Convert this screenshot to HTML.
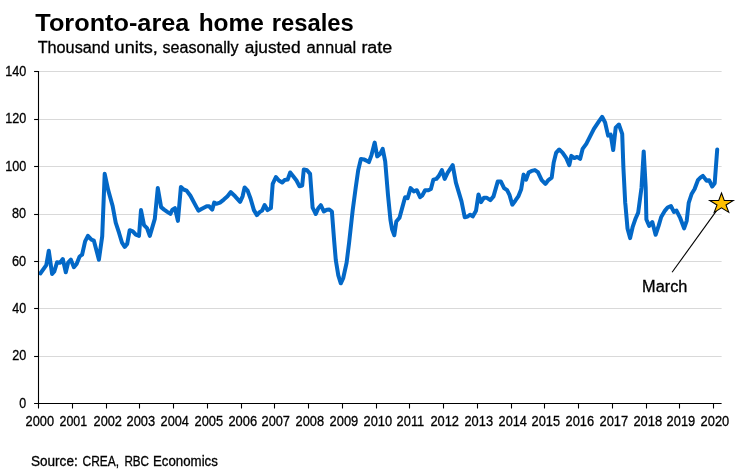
<!DOCTYPE html>
<html lang="en"><head><meta charset="utf-8"><title>Toronto-area home resales</title>
<style>html,body{margin:0;padding:0;background:#fff;}svg{display:block;}text{font-family:'Liberation Sans', 'DejaVu Sans', sans-serif;fill:#000;}</style>
</head><body>
<svg width="742" height="471" viewBox="0 0 742 471">
<rect width="742" height="471" fill="#ffffff"/>
<g stroke="#d9d9d9" stroke-width="1.05"><line x1="38.5" y1="356.50" x2="721.6" y2="356.50"/><line x1="38.5" y1="308.50" x2="721.6" y2="308.50"/><line x1="38.5" y1="261.50" x2="721.6" y2="261.50"/><line x1="38.5" y1="214.50" x2="721.6" y2="214.50"/><line x1="38.5" y1="166.50" x2="721.6" y2="166.50"/><line x1="38.5" y1="119.50" x2="721.6" y2="119.50"/><line x1="38.5" y1="71.50" x2="721.6" y2="71.50"/></g>
<polyline fill="none" stroke="#0368c7" stroke-width="4.0" stroke-linejoin="round" stroke-linecap="round" points="40.3,273.5 46.3,265.2 48.8,250.7 52.1,274.0 54.3,271.5 57.1,262.2 60.1,262.7 62.8,259.0 65.8,272.3 68.1,262.7 70.9,259.7 73.9,267.2 76.6,264.0 79.6,256.5 82.1,254.7 85.1,241.4 87.9,235.9 91.4,239.7 93.9,240.7 98.9,259.7 102.2,236.4 104.7,173.8 108.2,190.1 112.7,206.3 115.7,222.6 119.0,232.7 122.0,242.7 124.7,246.9 127.2,243.9 129.7,230.2 132.8,231.4 135.8,234.7 139.0,235.9 141.0,210.1 144.0,225.1 147.0,228.1 149.8,235.9 154.8,218.9 157.8,188.0 161.1,207.1 164.1,209.6 167.3,211.9 170.4,213.9 172.4,209.6 174.9,208.1 177.9,220.9 180.9,187.0 183.6,189.5 186.6,190.6 190.4,195.8 195.4,205.1 198.4,210.6 202.9,208.3 206.7,206.3 209.2,206.3 212.2,209.6 214.2,202.6 216.3,203.8 220.0,202.6 223.8,199.6 227.5,196.3 230.8,192.1 235.1,196.3 240.1,201.8 242.6,196.3 244.6,187.5 247.6,190.6 250.6,198.8 253.9,210.1 256.9,215.1 259.6,212.1 262.1,210.6 264.6,205.1 267.6,210.1 270.9,208.1 272.7,183.8 275.9,177.0 278.9,180.5 282.2,182.5 284.7,180.0 287.7,179.5 290.2,172.5 293.2,176.3 296.5,180.5 299.5,186.3 302.2,185.5 303.8,169.4 307.0,170.2 310.1,173.9 312.6,207.7 315.8,214.0 318.3,208.2 320.8,205.2 323.8,211.5 326.8,209.7 329.3,209.5 331.9,211.5 334.1,240.2 335.8,260.2 338.3,275.3 340.8,283.3 343.3,277.8 346.6,262.7 349.1,242.7 351.6,220.1 352.7,210.3 355.7,187.7 358.2,170.2 360.9,158.9 363.9,159.4 366.4,160.6 368.9,162.1 371.5,155.1 374.7,142.6 377.2,156.4 380.2,153.9 382.7,148.8 385.2,161.4 388.0,195.2 390.5,220.2 392.0,229.0 394.3,235.3 396.3,221.5 399.5,217.7 402.6,206.4 405.1,197.2 407.6,198.2 410.6,188.1 413.8,191.4 416.8,190.2 420.1,197.2 422.1,195.7 425.1,190.2 428.4,190.2 430.9,188.9 433.4,179.6 436.4,178.9 438.9,175.9 441.9,170.1 444.7,178.9 447.7,172.6 452.7,165.1 455.9,182.6 461.5,201.4 464.7,217.2 467.7,216.5 470.2,214.7 472.7,216.5 476.0,210.7 478.5,194.4 481.0,202.2 484.0,197.7 486.5,197.7 490.3,200.2 493.5,196.4 497.8,181.4 500.8,181.4 504.1,188.1 507.1,190.2 509.6,195.2 512.3,204.7 515.3,200.7 518.3,196.4 521.1,189.6 523.6,174.6 526.1,179.6 528.6,172.6 531.6,170.9 534.9,170.1 537.9,172.1 541.7,180.1 545.4,183.9 548.4,180.1 551.7,177.6 553.7,162.6 556.2,152.6 559.2,149.5 562.5,152.6 566.3,158.1 569.3,165.2 571.3,155.9 574.3,158.1 577.1,156.9 580.1,158.9 582.6,148.9 586.3,143.8 590.1,136.3 593.9,128.8 598.9,121.3 602.1,116.8 605.1,122.5 608.1,135.6 610.7,134.6 613.2,150.1 615.7,127.6 618.9,124.5 622.2,133.8 623.4,167.7 625.2,202.7 625.5,205.5 627.5,228.4 630.1,238.1 632.6,227.2 635.7,218.2 638.2,212.6 641.5,187.7 643.7,151.4 645.7,187.7 646.4,219.5 649.2,225.9 652.3,222.1 655.6,234.8 658.6,225.9 661.2,217.0 665.0,210.6 667.6,207.5 670.9,206.0 673.9,211.9 676.5,210.6 680.3,218.2 684.1,228.4 686.7,220.8 688.7,202.9 691.6,194.0 694.6,189.0 697.9,180.2 700.4,177.7 702.9,175.9 706.6,180.7 709.1,180.2 712.2,186.5 714.7,183.2 717.2,149.6"/>
<g stroke="#000" stroke-width="1.1"><line x1="38.5" y1="70.90" x2="38.5" y2="404.10"/><line x1="34.1" y1="403.5" x2="721.6" y2="403.5"/><line x1="34.1" y1="356.50" x2="38.5" y2="356.50"/><line x1="34.1" y1="308.50" x2="38.5" y2="308.50"/><line x1="34.1" y1="261.50" x2="38.5" y2="261.50"/><line x1="34.1" y1="214.50" x2="38.5" y2="214.50"/><line x1="34.1" y1="166.50" x2="38.5" y2="166.50"/><line x1="34.1" y1="119.50" x2="38.5" y2="119.50"/><line x1="34.1" y1="71.50" x2="38.5" y2="71.50"/><line x1="38.50" y1="403.5" x2="38.50" y2="408.5"/><line x1="72.50" y1="403.5" x2="72.50" y2="408.5"/><line x1="106.50" y1="403.5" x2="106.50" y2="408.5"/><line x1="139.50" y1="403.5" x2="139.50" y2="408.5"/><line x1="173.50" y1="403.5" x2="173.50" y2="408.5"/><line x1="207.50" y1="403.5" x2="207.50" y2="408.5"/><line x1="241.50" y1="403.5" x2="241.50" y2="408.5"/><line x1="274.50" y1="403.5" x2="274.50" y2="408.5"/><line x1="308.50" y1="403.5" x2="308.50" y2="408.5"/><line x1="342.50" y1="403.5" x2="342.50" y2="408.5"/><line x1="376.50" y1="403.5" x2="376.50" y2="408.5"/><line x1="409.50" y1="403.5" x2="409.50" y2="408.5"/><line x1="443.50" y1="403.5" x2="443.50" y2="408.5"/><line x1="477.50" y1="403.5" x2="477.50" y2="408.5"/><line x1="511.50" y1="403.5" x2="511.50" y2="408.5"/><line x1="544.50" y1="403.5" x2="544.50" y2="408.5"/><line x1="578.50" y1="403.5" x2="578.50" y2="408.5"/><line x1="612.50" y1="403.5" x2="612.50" y2="408.5"/><line x1="646.50" y1="403.5" x2="646.50" y2="408.5"/><line x1="679.50" y1="403.5" x2="679.50" y2="408.5"/><line x1="713.50" y1="403.5" x2="713.50" y2="408.5"/></g>
<line x1="672.1" y1="272.3" x2="716.4" y2="210.9" stroke="#000" stroke-width="1.1"/>
<polygon points="721.50,193.03 724.28,200.40 733.29,200.40 726.00,204.96 728.79,212.33 721.50,207.78 714.21,212.33 717.00,204.96 709.71,200.40 718.72,200.40" fill="#ffc000" stroke="#000" stroke-width="1.05" stroke-linejoin="miter"/>
<text x="35.33" y="30.90" font-size="24" font-weight="bold" textLength="154.06" lengthAdjust="spacingAndGlyphs">Toronto-area</text>
<text x="198.68" y="30.90" font-size="24" font-weight="bold" textLength="65.18" lengthAdjust="spacingAndGlyphs">home</text>
<text x="271.72" y="30.90" font-size="24" font-weight="bold" textLength="82.13" lengthAdjust="spacingAndGlyphs">resales</text>
<text x="37.65" y="52.60" font-size="16" stroke="#000" stroke-width="0.3" textLength="72.19" lengthAdjust="spacingAndGlyphs">Thousand</text>
<text x="114.62" y="52.60" font-size="16" stroke="#000" stroke-width="0.3" textLength="43.21" lengthAdjust="spacingAndGlyphs">units,</text>
<text x="162.53" y="52.60" font-size="16" stroke="#000" stroke-width="0.3" textLength="75.90" lengthAdjust="spacingAndGlyphs">seasonally</text>
<text x="244.87" y="52.60" font-size="16" stroke="#000" stroke-width="0.3" textLength="55.67" lengthAdjust="spacingAndGlyphs">ajusted</text>
<text x="306.62" y="52.60" font-size="16" stroke="#000" stroke-width="0.3" textLength="49.59" lengthAdjust="spacingAndGlyphs">annual</text>
<text x="361.41" y="52.60" font-size="16" stroke="#000" stroke-width="0.3" textLength="30.84" lengthAdjust="spacingAndGlyphs">rate</text>
<text x="19.14" y="407.70" font-size="14.0" stroke="#000" stroke-width="0.3" textLength="6.91" lengthAdjust="spacingAndGlyphs">0</text>
<text x="12.22" y="360.30" font-size="14.0" stroke="#000" stroke-width="0.3" textLength="14.05" lengthAdjust="spacingAndGlyphs">20</text>
<text x="12.33" y="312.90" font-size="14.0" stroke="#000" stroke-width="0.3" textLength="13.89" lengthAdjust="spacingAndGlyphs">40</text>
<text x="12.04" y="265.50" font-size="14.0" stroke="#000" stroke-width="0.3" textLength="14.14" lengthAdjust="spacingAndGlyphs">60</text>
<text x="12.02" y="218.10" font-size="14.0" stroke="#000" stroke-width="0.3" textLength="14.06" lengthAdjust="spacingAndGlyphs">80</text>
<text x="5.18" y="170.80" font-size="14.0" stroke="#000" stroke-width="0.3" textLength="21.05" lengthAdjust="spacingAndGlyphs">100</text>
<text x="5.18" y="123.40" font-size="14.0" stroke="#000" stroke-width="0.3" textLength="21.05" lengthAdjust="spacingAndGlyphs">120</text>
<text x="5.18" y="76.00" font-size="14.0" stroke="#000" stroke-width="0.3" textLength="21.05" lengthAdjust="spacingAndGlyphs">140</text>
<text x="25.55" y="425.70" font-size="14.3" stroke="#000" stroke-width="0.3" textLength="28.45" lengthAdjust="spacingAndGlyphs">2000</text>
<text x="59.48" y="425.70" font-size="14.3" stroke="#000" stroke-width="0.3" textLength="27.66" lengthAdjust="spacingAndGlyphs">2001</text>
<text x="93.58" y="425.70" font-size="14.3" stroke="#000" stroke-width="0.3" textLength="28.40" lengthAdjust="spacingAndGlyphs">2002</text>
<text x="126.52" y="425.70" font-size="14.3" stroke="#000" stroke-width="0.3" textLength="28.57" lengthAdjust="spacingAndGlyphs">2003</text>
<text x="160.61" y="425.70" font-size="14.3" stroke="#000" stroke-width="0.3" textLength="28.28" lengthAdjust="spacingAndGlyphs">2004</text>
<text x="194.51" y="425.70" font-size="14.3" stroke="#000" stroke-width="0.3" textLength="28.64" lengthAdjust="spacingAndGlyphs">2005</text>
<text x="228.38" y="425.70" font-size="14.3" stroke="#000" stroke-width="0.3" textLength="28.69" lengthAdjust="spacingAndGlyphs">2006</text>
<text x="261.59" y="425.70" font-size="14.3" stroke="#000" stroke-width="0.3" textLength="28.40" lengthAdjust="spacingAndGlyphs">2007</text>
<text x="295.58" y="425.70" font-size="14.3" stroke="#000" stroke-width="0.3" textLength="28.47" lengthAdjust="spacingAndGlyphs">2008</text>
<text x="329.59" y="425.70" font-size="14.3" stroke="#000" stroke-width="0.3" textLength="28.60" lengthAdjust="spacingAndGlyphs">2009</text>
<text x="363.50" y="425.70" font-size="14.3" stroke="#000" stroke-width="0.3" textLength="28.55" lengthAdjust="spacingAndGlyphs">2010</text>
<text x="396.59" y="425.70" font-size="14.3" stroke="#000" stroke-width="0.3" textLength="27.66" lengthAdjust="spacingAndGlyphs">2011</text>
<text x="430.42" y="425.70" font-size="14.3" stroke="#000" stroke-width="0.3" textLength="28.61" lengthAdjust="spacingAndGlyphs">2012</text>
<text x="464.48" y="425.70" font-size="14.3" stroke="#000" stroke-width="0.3" textLength="28.56" lengthAdjust="spacingAndGlyphs">2013</text>
<text x="498.60" y="425.70" font-size="14.3" stroke="#000" stroke-width="0.3" textLength="28.26" lengthAdjust="spacingAndGlyphs">2014</text>
<text x="531.55" y="425.70" font-size="14.3" stroke="#000" stroke-width="0.3" textLength="28.46" lengthAdjust="spacingAndGlyphs">2015</text>
<text x="565.52" y="425.70" font-size="14.3" stroke="#000" stroke-width="0.3" textLength="28.52" lengthAdjust="spacingAndGlyphs">2016</text>
<text x="599.50" y="425.70" font-size="14.3" stroke="#000" stroke-width="0.3" textLength="28.65" lengthAdjust="spacingAndGlyphs">2017</text>
<text x="633.38" y="425.70" font-size="14.3" stroke="#000" stroke-width="0.3" textLength="28.76" lengthAdjust="spacingAndGlyphs">2018</text>
<text x="666.61" y="425.70" font-size="14.3" stroke="#000" stroke-width="0.3" textLength="28.59" lengthAdjust="spacingAndGlyphs">2019</text>
<text x="700.60" y="425.70" font-size="14.3" stroke="#000" stroke-width="0.3" textLength="28.57" lengthAdjust="spacingAndGlyphs">2020</text>
<text x="642.10" y="291.60" font-size="16" stroke="#000" stroke-width="0.3" textLength="45.29" lengthAdjust="spacingAndGlyphs">March</text>
<text x="30.95" y="465.80" font-size="13.8" stroke="#000" stroke-width="0.3" textLength="46.78" lengthAdjust="spacingAndGlyphs">Source:</text>
<text x="82.61" y="465.90" font-size="13.8" stroke="#000" stroke-width="0.3" textLength="36.47" lengthAdjust="spacingAndGlyphs">CREA,</text>
<text x="124.40" y="465.90" font-size="13.8" stroke="#000" stroke-width="0.3" textLength="24.61" lengthAdjust="spacingAndGlyphs">RBC</text>
<text x="153.03" y="465.90" font-size="13.8" stroke="#000" stroke-width="0.3" textLength="64.83" lengthAdjust="spacingAndGlyphs">Economics</text>
</svg>
</body></html>
